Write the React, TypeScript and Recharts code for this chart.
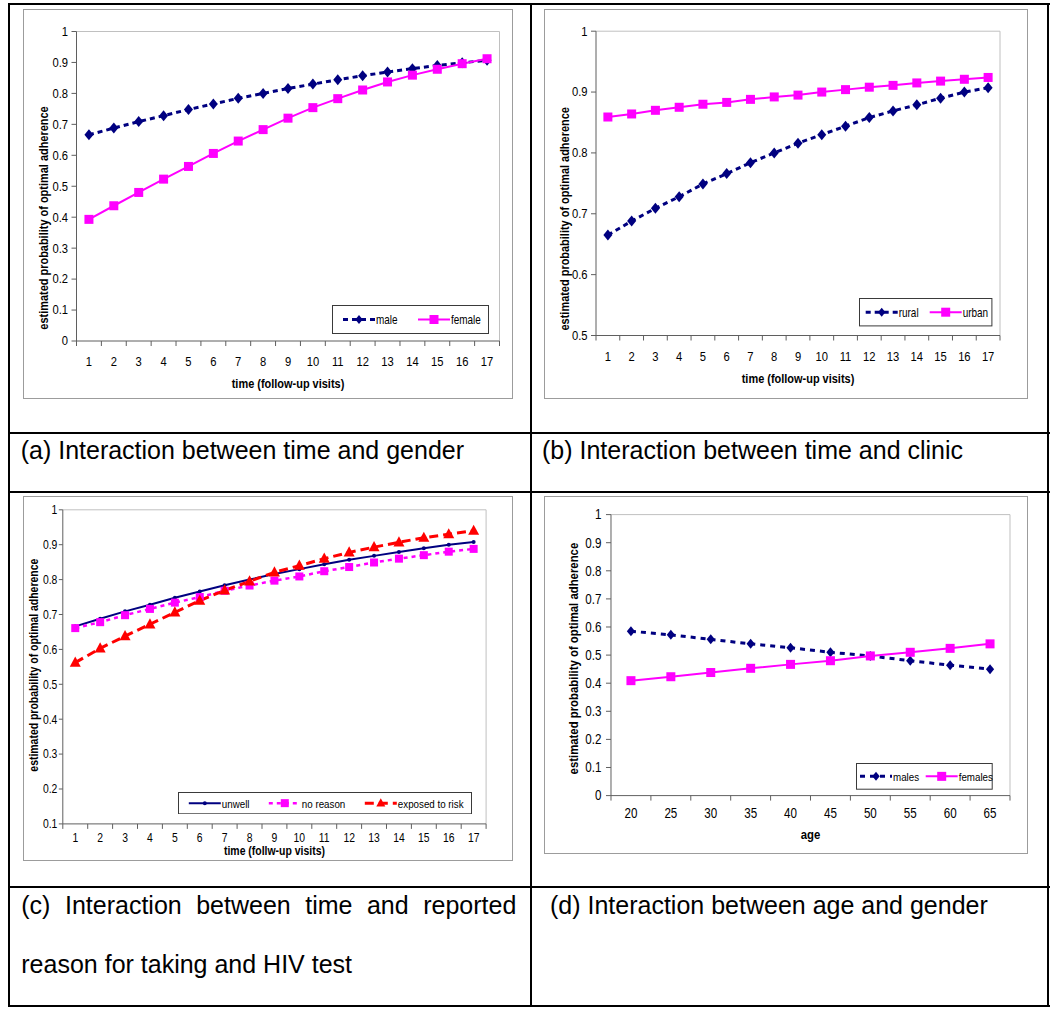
import React from "react";
import { LineChart, Line, XAxis, YAxis, ReferenceLine, Legend } from "recharts";

const FONT = '"Liberation Sans", Arial, Helvetica, sans-serif';
const NAVY = "#000080";
const MAGENTA = "#FF00FF";
const RED = "#FF0000";
const AXIS = "#5f5f5f";
const FRAME = "#c0c0c0";
// the original chart text is a condensed face; squeeze Liberation Sans to match
const SQUEEZE = 0.83;

// (a) time x gender
const visits = [1, 2, 3, 4, 5, 6, 7, 8, 9, 10, 11, 12, 13, 14, 15, 16, 17];
const maleProb = [0.666, 0.688, 0.709, 0.728, 0.748, 0.766, 0.784, 0.8, 0.816, 0.83, 0.844, 0.857, 0.869, 0.88, 0.89, 0.899, 0.907];
const femaleProb = [0.393, 0.437, 0.48, 0.523, 0.564, 0.606, 0.646, 0.683, 0.72, 0.754, 0.783, 0.811, 0.837, 0.859, 0.878, 0.896, 0.912];

// (b) time x clinic
const ruralProb = [0.665, 0.688, 0.709, 0.728, 0.749, 0.766, 0.784, 0.8, 0.816, 0.83, 0.844, 0.858, 0.869, 0.879, 0.89, 0.9, 0.907];
const urbanProb = [0.859, 0.864, 0.87, 0.875, 0.88, 0.883, 0.888, 0.892, 0.895, 0.9, 0.904, 0.908, 0.911, 0.915, 0.918, 0.921, 0.924];

// (c) time x reason for HIV test
const unwellProb = [0.666, 0.688, 0.709, 0.728, 0.748, 0.766, 0.784, 0.8, 0.816, 0.83, 0.844, 0.857, 0.868, 0.879, 0.89, 0.9, 0.908];
const noReasonProb = [0.661, 0.678, 0.698, 0.716, 0.734, 0.75, 0.768, 0.783, 0.797, 0.809, 0.824, 0.836, 0.849, 0.86, 0.87, 0.88, 0.888];
const exposedProb = [0.562, 0.603, 0.638, 0.672, 0.706, 0.74, 0.769, 0.795, 0.821, 0.84, 0.86, 0.878, 0.893, 0.907, 0.92, 0.93, 0.94];

// (d) age x gender
const ages = [20, 25, 30, 35, 40, 45, 50, 55, 60, 65];
const malesByAge = [0.585, 0.572, 0.556, 0.54, 0.526, 0.51, 0.497, 0.48, 0.464, 0.45];
const femalesByAge = [0.409, 0.423, 0.438, 0.453, 0.467, 0.48, 0.497, 0.51, 0.524, 0.54];

const probTicks = [0, 0.1, 0.2, 0.3, 0.4, 0.5, 0.6, 0.7, 0.8, 0.9, 1];
const clinicTicks = [0.5, 0.6, 0.7, 0.8, 0.9, 1];
const reasonTicks = [0.1, 0.2, 0.3, 0.4, 0.5, 0.6, 0.7, 0.8, 0.9, 1];

const yTitle = "estimated probability of optimal adherence";

type Marker = "diamond" | "square" | "triangle" | "dot";
type Series = {
  key: string;
  name: string;
  color: string;
  width: number;
  dash?: string;
  marker: Marker;
  size: number;
};
type Box = { left: number; top: number; width: number; height: number };

function drawMarker(kind: Marker, cx: number, cy: number, color: string, s: number, key?: string) {
  if (cx == null || cy == null) return <g key={key} />;
  if (kind === "diamond")
    return (
      <polygon
        key={key}
        points={`${cx},${cy - s} ${cx + s * 0.82},${cy} ${cx},${cy + s} ${cx - s * 0.82},${cy}`}
        fill={color}
      />
    );
  if (kind === "square")
    return <rect key={key} x={cx - s} y={cy - s} width={s * 2} height={s * 2} fill={color} />;
  if (kind === "triangle")
    return (
      <polygon
        key={key}
        points={`${cx},${cy - s * 1.1} ${cx + s},${cy + s * 0.75} ${cx - s},${cy + s * 0.75}`}
        fill={color}
      />
    );
  return <circle key={key} cx={cx} cy={cy} r={s} fill={color} />;
}

function NarrowText({
  x,
  y,
  size,
  anchor = "middle",
  bold = false,
  rotate = 0,
  children,
}: {
  x: number;
  y: number;
  size: number;
  anchor?: "start" | "middle" | "end";
  bold?: boolean;
  rotate?: number;
  children: React.ReactNode;
}) {
  return (
    <text
      transform={`translate(${x} ${y}) rotate(${rotate}) scale(${SQUEEZE} 1)`}
      x={0}
      y={0}
      textAnchor={anchor}
      dominantBaseline="central"
      fontSize={size}
      fontWeight={bold ? "bold" : "normal"}
      fontFamily={FONT}
      fill="#000"
    >
      {children}
    </text>
  );
}

function LegendBox({ series, box, font, itemX }: { series: Series[]; box: Box; font: number; itemX: number[] }) {
  const mid = box.height / 2;
  return (
    <svg width={box.width} height={box.height} style={{ display: "block" }}>
      <rect x={0.5} y={0.5} width={box.width - 1} height={box.height - 1} fill="#fff" stroke="#3a3a3a" />
      {series.map((s, i) => (
        <g key={s.key}>
          <line x1={itemX[i]} x2={itemX[i] + 32} y1={mid} y2={mid} stroke={s.color} strokeWidth={s.width} strokeDasharray={s.dash} />
          {drawMarker(s.marker, itemX[i] + 16, mid, s.color, Math.min(s.size, 4.5))}
          <NarrowText x={itemX[i] + 33} y={mid} size={font} anchor="start">
            {s.name}
          </NarrowText>
        </g>
      ))}
    </svg>
  );
}

type PanelProps = {
  box: Box;
  data: Record<string, number>[];
  series: Series[];
  xKey: string;
  xCats: number[];
  step: number;
  yDomain: [number, number];
  yTicks: number[];
  yAxisWidth: number;
  xAxisHeight: number;
  marginTop: number;
  marginRight: number;
  tickFont: number;
  yTickSize: number;
  yTickMargin: number;
  xLabelDy: number;
  xTitle: string;
  xTitleY: number;
  yTitleX: number;
  yTitleY: number;
  titleFont: number;
  legendBox: Box;
  legendFont: number;
  legendItemX: number[];
};

function Panel(p: PanelProps) {
  const xMin = p.xCats[0] - p.step / 2;
  const xMax = p.xCats[p.xCats.length - 1] + p.step / 2;
  const xTicks = p.xCats.flatMap((c) => [c - p.step / 2, c]).concat([xMax]);
  const plotCenter = p.yAxisWidth + (p.box.width - p.yAxisWidth - p.marginRight) / 2;

  const renderXTick = (props: any) => {
    const { x, y, payload } = props;
    const v = payload.value;
    if (p.xCats.includes(v))
      return (
        <NarrowText x={x} y={y + p.xLabelDy} size={p.tickFont}>
          {v}
        </NarrowText>
      );
    return <line x1={x} x2={x} y1={y} y2={y + 5} stroke={AXIS} />;
  };

  const renderYTick = (props: any) => {
    const { x, y, payload } = props;
    return (
      <NarrowText x={x} y={y} size={p.tickFont} anchor="end">
        {String(payload.value)}
      </NarrowText>
    );
  };

  return (
    <div
      style={{
        position: "absolute",
        left: p.box.left,
        top: p.box.top,
        width: p.box.width,
        height: p.box.height,
        outline: "1px solid #9c9c9c",
        boxShadow: "1px 1px 0 #d4d4d4",
        background: "#fff",
      }}
    >
      <LineChart
        width={p.box.width}
        height={p.box.height}
        data={p.data}
        margin={{ top: p.marginTop, right: p.marginRight, left: 0, bottom: 0 }}
      >
        <ReferenceLine y={p.yDomain[1]} stroke={FRAME} />
        <ReferenceLine x={xMax} stroke={FRAME} />
        <XAxis
          type="number"
          dataKey={p.xKey}
          domain={[xMin, xMax]}
          ticks={xTicks}
          interval={0}
          tickSize={0}
          tickMargin={0}
          tickLine={false}
          tick={renderXTick}
          axisLine={{ stroke: AXIS }}
          height={p.xAxisHeight}
          label={() => (
            <NarrowText x={plotCenter} y={p.xTitleY} size={p.titleFont} bold>
              {p.xTitle}
            </NarrowText>
          )}
        />
        <YAxis
          type="number"
          domain={p.yDomain}
          ticks={p.yTicks}
          interval={0}
          width={p.yAxisWidth}
          tickSize={p.yTickSize}
          tickMargin={p.yTickMargin}
          tickLine={{ stroke: AXIS }}
          axisLine={{ stroke: AXIS }}
          tick={renderYTick}
          label={() => (
            <NarrowText x={p.yTitleX} y={p.yTitleY} size={p.titleFont} bold rotate={-90}>
              {yTitle}
            </NarrowText>
          )}
        />
        <Legend
          layout="horizontal"
          verticalAlign="middle"
          align="center"
          wrapperStyle={{
            left: p.legendBox.left,
            top: p.legendBox.top,
            width: p.legendBox.width,
            height: p.legendBox.height,
          }}
          content={() => <LegendBox series={p.series} box={p.legendBox} font={p.legendFont} itemX={p.legendItemX} />}
        />
        {p.series.map((s) => (
          <Line
            key={s.key}
            type="linear"
            dataKey={s.key}
            name={s.name}
            stroke={s.color}
            strokeWidth={s.width}
            strokeDasharray={s.dash}
            dot={(d: any) => drawMarker(s.marker, d.cx, d.cy, s.color, s.size, `${s.key}-${d.index}`)}
            activeDot={false}
            isAnimationActive={false}
          />
        ))}
      </LineChart>
    </div>
  );
}

const genderData = visits.map((t, i) => ({ t, male: maleProb[i], female: femaleProb[i] }));
const clinicData = visits.map((t, i) => ({ t, rural: ruralProb[i], urban: urbanProb[i] }));
const reasonData = visits.map((t, i) => ({ t, unwell: unwellProb[i], noReason: noReasonProb[i], exposed: exposedProb[i] }));
const ageData = ages.map((age, i) => ({ age, males: malesByAge[i], females: femalesByAge[i] }));

const genderSeries: Series[] = [
  { key: "male", name: "male", color: NAVY, width: 3, dash: "5 4", marker: "diamond", size: 5.5 },
  { key: "female", name: "female", color: MAGENTA, width: 2, marker: "square", size: 4.5 },
];
const clinicSeries: Series[] = [
  { key: "rural", name: "rural", color: NAVY, width: 3, dash: "5 4", marker: "diamond", size: 5.5 },
  { key: "urban", name: "urban", color: MAGENTA, width: 2, marker: "square", size: 4.5 },
];
const reasonSeries: Series[] = [
  { key: "unwell", name: "unwell", color: NAVY, width: 2, marker: "dot", size: 2 },
  { key: "noReason", name: "no reason", color: MAGENTA, width: 2.5, dash: "4 4", marker: "square", size: 4 },
  { key: "exposed", name: "exposed to risk", color: RED, width: 3, dash: "9 5", marker: "triangle", size: 5.5 },
];
const ageSeries: Series[] = [
  { key: "males", name: "males", color: NAVY, width: 3, dash: "5 5", marker: "diamond", size: 5 },
  { key: "females", name: "females", color: MAGENTA, width: 2, marker: "square", size: 4.5 },
];

const rule = (left: number, top: number, width: number, height: number) => (
  <div style={{ position: "absolute", left, top, width, height, background: "#000" }} />
);

const captionStyle: React.CSSProperties = {
  position: "absolute",
  fontFamily: FONT,
  fontSize: 25,
  color: "#000",
  lineHeight: "30px",
  whiteSpace: "nowrap",
};

export default function App() {
  return (
    <div style={{ position: "absolute", left: 0, top: 0, width: 1050, height: 1018, background: "#fff", overflow: "hidden" }}>
      {rule(7.5, 3, 1042, 2)}
      {rule(7.5, 1004.7, 1042, 2)}
      {rule(7.5, 3, 2, 1003.7)}
      {rule(1047.3, 3, 2, 1003.7)}
      {rule(530, 3, 2, 1003.7)}
      {rule(7.5, 432.3, 1042, 2)}
      {rule(7.5, 491.3, 1042, 2)}
      {rule(7.5, 885.7, 1042, 2)}

      <div style={{ ...captionStyle, left: 20.7, top: 435 }}>(a) Interaction between time and gender</div>
      <div style={{ ...captionStyle, left: 542, top: 435 }}>(b) Interaction between time and clinic</div>
      <div
        style={{
          ...captionStyle,
          left: 21.3,
          top: 876,
          width: 495,
          whiteSpace: "normal",
          textAlign: "justify",
          lineHeight: "58.5px",
        }}
      >
        (c) Interaction between time and reported reason for taking and HIV test
      </div>
      <div style={{ ...captionStyle, left: 550, top: 890 }}>(d) Interaction between age and gender</div>

      <Panel
        box={{ left: 23.5, top: 9.5, width: 488, height: 388 }}
        data={genderData}
        series={genderSeries}
        xKey="t"
        xCats={visits}
        step={1}
        yDomain={[0, 1]}
        yTicks={probTicks}
        yAxisWidth={52.5}
        xAxisHeight={57}
        marginTop={21.5}
        marginRight={12.5}
        tickFont={13.5}
        yTickSize={5}
        yTickMargin={3.5}
        xLabelDy={20.5}
        xTitle="time (follow-up visits)"
        xTitleY={373.5}
        yTitleX={19.5}
        yTitleY={208}
        titleFont={13.2}
        legendBox={{ left: 308.5, top: 295.5, width: 157, height: 29 }}
        legendFont={12}
        legendItemX={[11, 86]}
      />
      <Panel
        box={{ left: 545, top: 9.5, width: 482, height: 388 }}
        data={clinicData}
        series={clinicSeries}
        xKey="t"
        xCats={visits}
        step={1}
        yDomain={[0.5, 1]}
        yTicks={clinicTicks}
        yAxisWidth={51}
        xAxisHeight={62.5}
        marginTop={21.2}
        marginRight={27}
        tickFont={13.5}
        yTickSize={5}
        yTickMargin={3.5}
        xLabelDy={21}
        xTitle="time (follow-up visits)"
        xTitleY={368.8}
        yTitleX={19.3}
        yTitleY={208.8}
        titleFont={13.2}
        legendBox={{ left: 314.3, top: 288.8, width: 133.4, height: 28.4 }}
        legendFont={12}
        legendItemX={[6.7, 70.7]}
      />
      <Panel
        box={{ left: 23.7, top: 496.9, width: 488.5, height: 363.4 }}
        data={reasonData}
        series={reasonSeries}
        xKey="t"
        xCats={visits}
        step={1}
        yDomain={[0.1, 1]}
        yTicks={reasonTicks}
        yAxisWidth={38.8}
        xAxisHeight={36.5}
        marginTop={12.8}
        marginRight={26.4}
        tickFont={12.5}
        yTickSize={4}
        yTickMargin={1.5}
        xLabelDy={13.5}
        xTitle="time (follw-up visits)"
        xTitleY={354}
        yTitleX={10.1}
        yTitleY={168.2}
        titleFont={12.6}
        legendBox={{ left: 154.5, top: 294.8, width: 294, height: 22.3 }}
        legendFont={11.8}
        legendItemX={[10.8, 90.8, 186.8]}
      />
      <Panel
        box={{ left: 545, top: 496.7, width: 481.7, height: 356.6 }}
        data={ageData}
        series={ageSeries}
        xKey="age"
        xCats={ages}
        step={5}
        yDomain={[0, 1]}
        yTicks={probTicks}
        yAxisWidth={66}
        xAxisHeight={58}
        marginTop={17.6}
        marginRight={16.7}
        tickFont={14}
        yTickSize={5}
        yTickMargin={4.5}
        xLabelDy={18}
        xTitle="age"
        xTitleY={337.6}
        yTitleX={28.3}
        yTitleY={161.6}
        titleFont={13.7}
        legendBox={{ left: 311, top: 266.6, width: 136.7, height: 26.7 }}
        legendFont={11.8}
        legendItemX={[4, 69.7]}
      />
    </div>
  );
}
